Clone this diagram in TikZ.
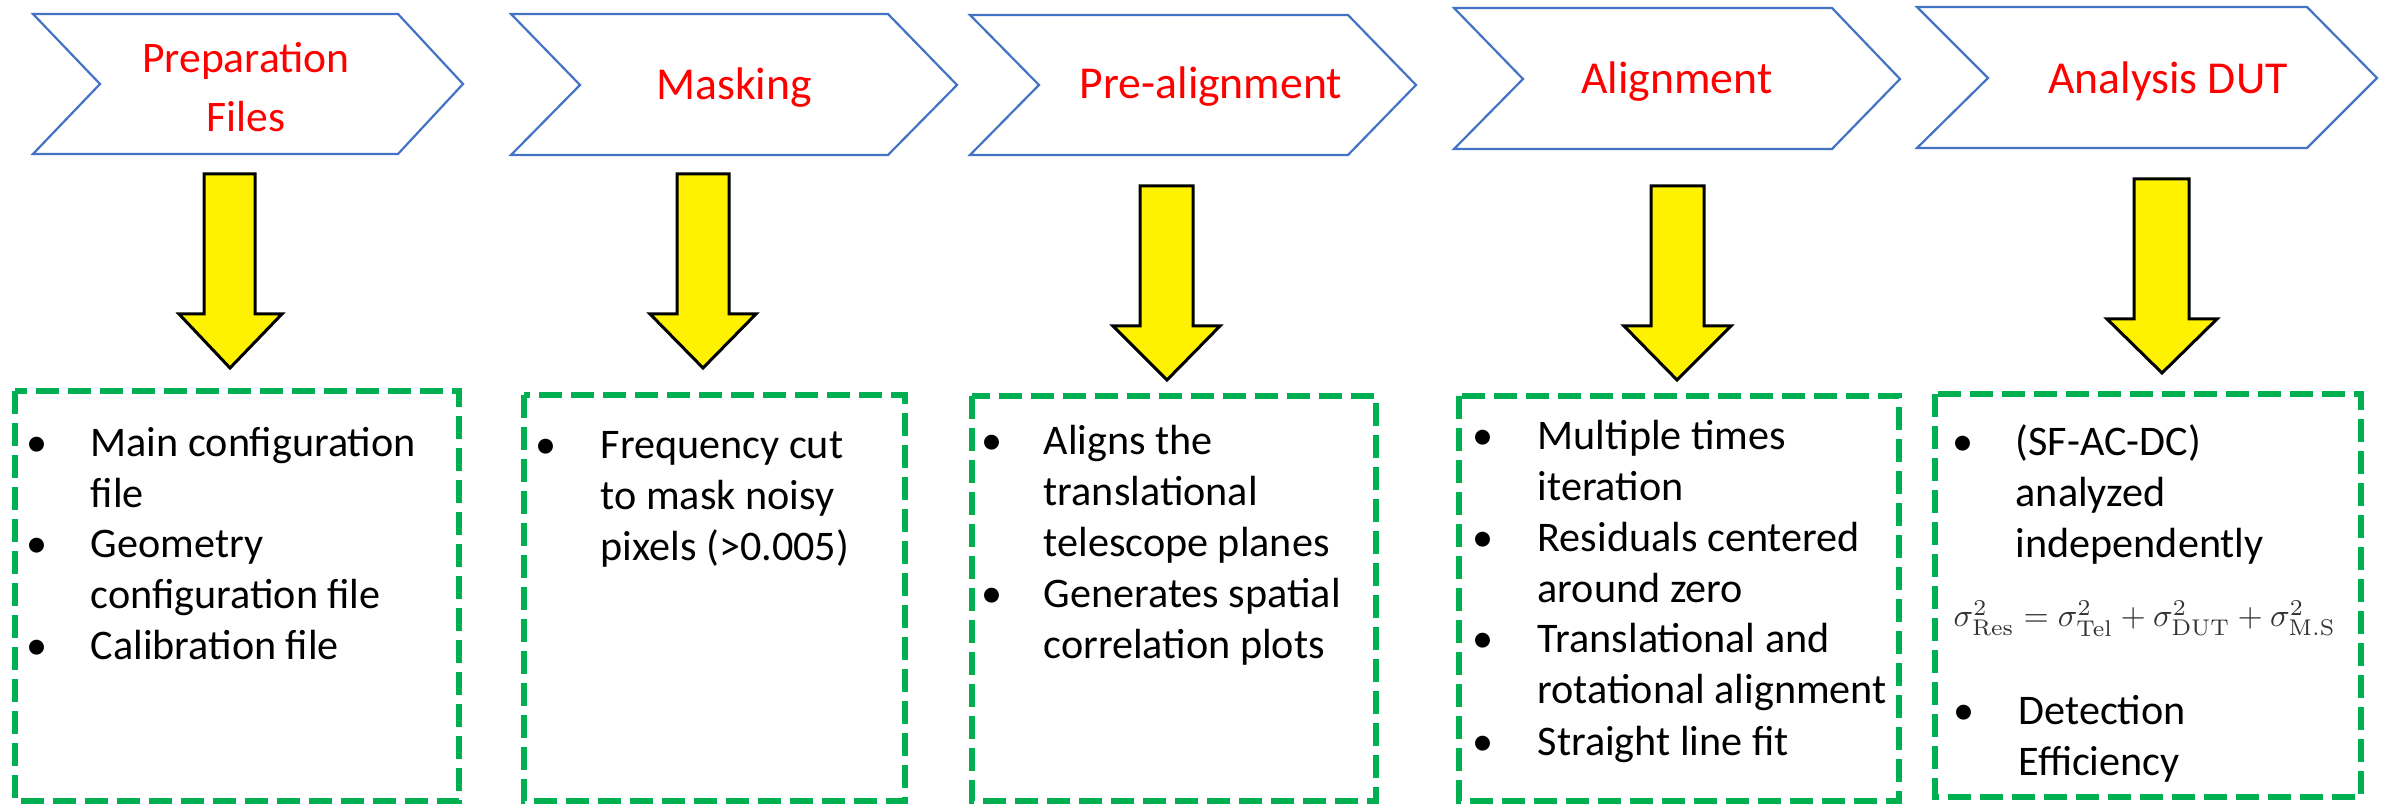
\documentclass[tikz,border=0pt]{standalone}
\usepackage[no-math]{fontspec}
\setmainfont{Carlito}
\usepackage{graphicx}
\definecolor{chevblue}{HTML}{4472C4}
\definecolor{boxgreen}{HTML}{00B050}
\definecolor{titlered}{HTML}{FF0000}
\newcommand{\bodyfont}{\fontsize{12pt}{14.45pt}\selectfont}
\newcommand{\titlefont}{\fontsize{13pt}{16.8pt}\selectfont}
\newcommand{\itemtext}[1]{\begin{tabular}[t]{@{}l@{}}#1\end{tabular}}
\tikzset{
  chev/.style={draw=chevblue, line width=0.22mm, fill=white, line join=miter},
  yarrow/.style={draw=black, line width=0.3mm, fill=yellow, line join=miter},
  gbox/.style={draw=boxgreen, line width=0.68mm, dash pattern=on 2.3mm off 0.9mm},
  ttl/.style={text=titlered, font=\titlefont, inner sep=0pt, anchor=base},
  bul/.style={font=\bodyfont, inner sep=0pt, anchor=base},
  itm/.style={font=\bodyfont, inner sep=0pt, anchor=base west},
}
\begin{document}
\begin{tikzpicture}[x=0.1mm, y=-0.1mm]
\useasboundingbox (0,0) rectangle (2382,806);
% chevrons
\draw[chev] (33,14) -- (398,14) -- (463,84) -- (398,154) -- (33,154) -- (100,84) -- cycle;
\draw[chev] (511,14) -- (888,14) -- (957,85) -- (888,155) -- (511,155) -- (580,85) -- cycle;
\draw[chev] (970,15) -- (1348,15) -- (1416,85) -- (1348,155) -- (970,155) -- (1039,85) -- cycle;
\draw[chev] (1454,8) -- (1832,8) -- (1900,79) -- (1832,149) -- (1454,149) -- (1523,79) -- cycle;
\draw[chev] (1917,7) -- (2307,7) -- (2377,78) -- (2307,148) -- (1917,148) -- (1988,78) -- cycle;
% titles
\node[ttl, font=\fontsize{12.4pt}{16.8pt}\selectfont] (t1) at (246,73) {Preparation};
\node[ttl, font=\fontsize{12.4pt}{16.8pt}\selectfont] (t1b) at (246,132) {Files};
\node[ttl] (t2) at (734,100) {Masking};
\node[ttl] (t3) at (1211,99) {Pre-alignment};
\node[ttl] (t4) at (1677,94) {Alignment};
\node[ttl] (t5) at (2168,94) {Analysis DUT};
% yellow block arrows
\draw[yarrow] (204,174) -- (255,174) -- (255,314) -- (282,314) -- (230,368) -- (179,314) -- (204,314) -- cycle;
\draw[yarrow] (677,174) -- (729,174) -- (729,314) -- (756,314) -- (703,368) -- (650,314) -- (677,314) -- cycle;
\draw[yarrow] (1140,186) -- (1193,186) -- (1193,326) -- (1220,326) -- (1167,380) -- (1113,326) -- (1140,326) -- cycle;
\draw[yarrow] (1651,186) -- (1704,186) -- (1704,326) -- (1731,326) -- (1677,380) -- (1624,326) -- (1651,326) -- cycle;
\draw[yarrow] (2134,179) -- (2189,179) -- (2189,319) -- (2217,319) -- (2162,373) -- (2107,319) -- (2134,319) -- cycle;
% dashed boxes
\draw[gbox] (15,391) rectangle (459,801);
\draw[gbox] (524,395) rectangle (905,801);
\draw[gbox] (972,396) rectangle (1376,801);
\draw[gbox] (1459,396) rectangle (1899,801);
\draw[gbox] (1935,394) rectangle (2361,797);
% box 1
\node[bul] (b1a) at (37,457) {•};
\node[itm] (i1a) at (90,457) {\itemtext{Main configuration\\file}};
\node[bul] (b1b) at (37,558) {•};
\node[itm] (i1b) at (90,558) {\itemtext{Geometry\\configuration file}};
\node[bul] (b1c) at (37,660) {•};
\node[itm] (i1c) at (90,660) {\itemtext{Calibration file}};
% box 2
\node[bul] (b2a) at (546,459) {•};
\node[itm] (i2a) at (600,459) {\itemtext{Frequency cut\\to mask noisy\\pixels (>0.005)}};
% box 3
\node[bul] (b3a) at (992,455) {•};
\node[itm] (i3a) at (1043,455) {\itemtext{Aligns the\\translational\\telescope planes}};
\node[bul] (b3b) at (992,608) {•};
\node[itm] (i3b) at (1043,608) {\itemtext{Generates spatial\\correlation plots}};
% box 4
\node[bul] (b4a) at (1483,450) {•};
\node[itm] (i4a) at (1537,450) {\itemtext{Multiple times\\iteration}};
\node[bul] (b4b) at (1483,552) {•};
\node[itm] (i4b) at (1537,552) {\itemtext{Residuals centered\\around zero}};
\node[bul] (b4c) at (1483,653) {•};
\node[itm] (i4c) at (1537,653) {\itemtext{Translational and\\rotational alignment}};
\node[bul] (b4d) at (1483,756) {•};
\node[itm] (i4d) at (1537,756) {\itemtext{Straight line fit}};
% box 5
\node[bul] (b5a) at (1963,456) {•};
\node[itm] (i5a) at (2015,456) {\itemtext{(SF-AC-DC)\\analyzed\\independently}};
\node[inner sep=0pt, anchor=base west, text=black!80] (eq) at (1953,627)
  {\resizebox{108.7pt}{!}{$\sigma^2_{\mathrm{Res}} = \sigma^2_{\mathrm{Tel}} + \sigma^2_{\mathrm{DUT}} + \sigma^2_{\mathrm{M.S}}$}};
\node[bul] (b5b) at (1964,725) {•};
\node[itm] (i5b) at (2018,725) {\itemtext{Detection\\Efficiency}};
\end{tikzpicture}
\end{document}
